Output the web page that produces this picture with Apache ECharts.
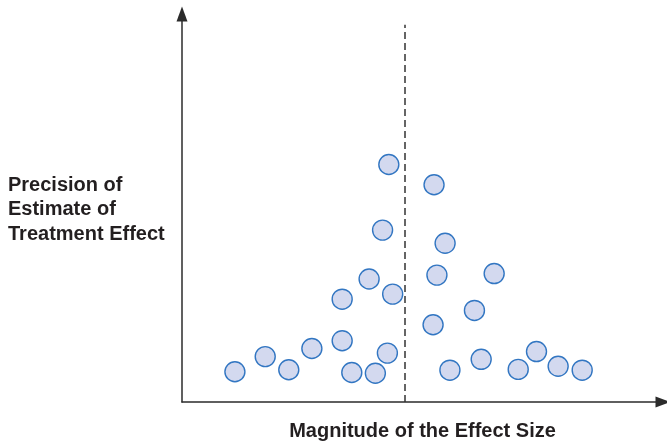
<!DOCTYPE html>
<html>
<head>
<meta charset="utf-8">
<script src="https://cdn.jsdelivr.net/npm/echarts@6/dist/echarts.min.js"></script>
<style>
html,body{margin:0;padding:0;background:#fff;}
#chart{width:667px;height:442px;}
</style>
</head>
<body>
<div id="chart"></div>
<script>
// Effect size (x) and precision (y) of each study (arbitrary 0-100 units)
const effectSize = [43.0, 52.4, 41.7, 54.7, 38.9, 53.0, 64.9, 43.8, 33.3, 60.8, 52.2, 33.3, 27.0,
                    17.3, 42.7, 11.0, 22.2, 35.3, 40.2, 55.7, 62.2, 69.9, 73.7, 78.2, 83.2];
const precision  = [61.2, 56.0, 44.3, 40.9, 31.7, 32.7, 33.1, 27.8, 26.5, 23.6, 19.9, 15.8, 13.8,
                    11.7, 12.6, 7.8, 8.3, 7.6, 7.4, 8.2, 11.0, 8.4, 13.0, 9.2, 8.2];
const pooledEffect = 46.4;
const pooledLineTop = 97.2;
const xTitle = 'Magnitude of the Effect Size';
const yTitle = 'Precision of\nEstimate of\nTreatment Effect';

const points = effectSize.map((x, i) => [x, precision[i]]);
const font = '"Liberation Sans", Arial, Helvetica, sans-serif';
const axisColor = '#2b2b2b';

const axisLine = {
  show: true, symbol: ['none', 'triangle'], symbolSize: [11, 15], symbolOffset: [0, 0],
  lineStyle: {color: axisColor, width: 1.5}
};

const chart = echarts.init(document.getElementById('chart'), null, {renderer: 'canvas'});
chart.setOption({
  animation: false,
  backgroundColor: '#fff',
  grid: {left: 182, right: 4, top: 14, bottom: 40, containLabel: false, outerBoundsMode: 'none'},
  xAxis: {
    type: 'value', min: 0, max: 100,
    name: xTitle, nameLocation: 'middle', nameGap: 19,
    nameTextStyle: {fontFamily: font, fontWeight: 'bold', fontSize: 20, color: '#231f20'},
    axisLine: axisLine,
    axisTick: {show: false}, axisLabel: {show: false}, splitLine: {show: false}
  },
  yAxis: {
    type: 'value', min: 0, max: 100,
    axisLine: axisLine,
    axisTick: {show: false}, axisLabel: {show: false}, splitLine: {show: false}
  },
  graphic: [{
    type: 'text', left: 8, top: 173,
    style: {text: yTitle, font: 'bold 20px ' + font, fill: '#231f20', lineHeight: 24.5}
  }],
  series: [{
    type: 'scatter',
    data: points,
    symbol: 'circle',
    symbolSize: 20,
    itemStyle: {color: '#d3d9ef', borderColor: '#3276c2', borderWidth: 1.4, opacity: 1},
    markLine: {
      silent: true, symbol: ['none', 'none'], label: {show: false},
      lineStyle: {color: '#333', width: 1.5, type: [7, 4]},
      data: [[{coord: [pooledEffect, 0]}, {coord: [pooledEffect, pooledLineTop]}]]
    }
  }]
});
</script>
</body>
</html>
